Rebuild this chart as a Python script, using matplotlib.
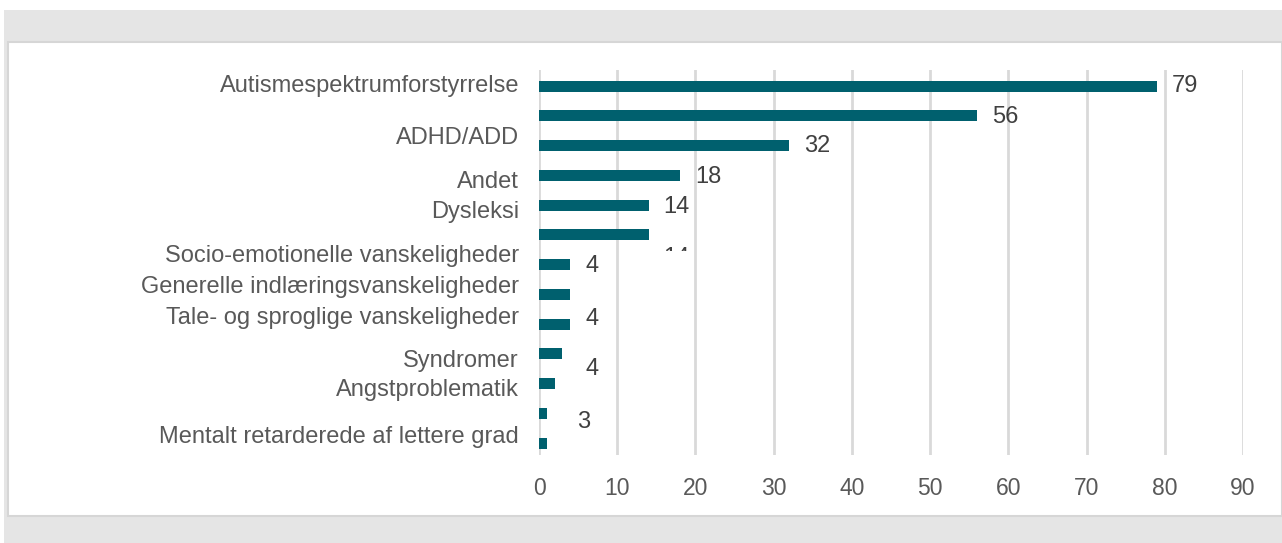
import matplotlib
matplotlib.use("Agg")
import matplotlib.pyplot as plt
from matplotlib.patches import Rectangle
import matplotlib.transforms as mtrans

plt.rcParams['font.family'] = ['Liberation Sans', 'DejaVu Sans']

# Data (bars, top to bottom)
values = [79, 56, 32, 18, 14, 14, 4, 4, 4, 3, 2, 1, 1]
categories = ["Autismespektrumforstyrrelse", "ADHD/ADD", "Andet", "Dysleksi",
              "Socio-emotionelle vanskeligheder", "Generelle indlæringsvanskeligheder",
              "Tale- og sproglige vanskeligheder", "Syndromer", "Angstproblematik",
              "Mentalt retarderede af lettere grad"]
value_labels = ["79", "56", "32", "18", "14", "14", "4", "4", "4", "3"]
value_label_x = [79, 56, 32, 18, 14, 14, 4, 4, 4, 3]
xticks = [0, 10, 20, 30, 40, 50, 60, 70, 80, 90]

# Layout (positions in bar-index units, as rendered in the reference)
cat_label_pos = [0, 1.75, 3.23, 4.24, 5.71, 6.76, 7.8, 9.24, 10.22, 11.8]
val_label_pos = [0, 1.03, 2.03, 3.05, 4.05, 5.78, 6.05, 7.82, 9.52, 11.3]

W, H = 1282, 543
fig = plt.figure(figsize=(W / 100, H / 100), dpi=100)
fig.patch.set_facecolor('white')

def px(x, y):
    return x / W, 1 - y / H

# background panels
fig.patches.append(Rectangle(px(4, 543), (W - 4) / W, (543 - 10) / H,
                             transform=fig.transFigure, facecolor='#e5e5e5',
                             edgecolor='none', zorder=-3))
fig.patches.append(Rectangle(px(8, 516), (W - 8) / W, (516 - 42) / H,
                             transform=fig.transFigure, facecolor='white',
                             edgecolor='#d6d6d6', linewidth=1.5, zorder=-2))

ax_left, ax_right, ax_top, ax_bot = 539, 1243, 70, 455
ax = fig.add_axes([ax_left / W, 1 - ax_bot / H, (ax_right - ax_left) / W, (ax_bot - ax_top) / H])
ax.set_facecolor('none')

ypos = list(range(len(values)))
ax.barh(ypos, values, height=0.37, color='#00606e', zorder=3)

ax.set_xlim(0, 90)
ax.set_ylim(12.4, -0.54)
ax.set_xticks(xticks)
ax.set_xticklabels([str(t) for t in xticks], fontsize=16.5, color='#595959')
ax.tick_params(axis='x', length=0, pad=16)
ax.set_yticks([])
ax.grid(axis='x', color='#d9d9d9', linewidth=2, zorder=0)
for s in ax.spines.values():
    s.set_visible(False)

# category labels
offset = mtrans.ScaledTranslation(-20 / 100, 0, fig.dpi_scale_trans)
for lab, p in zip(categories, cat_label_pos):
    ax.text(0, p, lab, transform=ax.transData + offset, ha='right', va='center',
            fontsize=17, color='#595959', clip_on=False)

# value labels
voff = mtrans.ScaledTranslation(15 / 100, 0, fig.dpi_scale_trans)
clip = Rectangle(px(0, 251), 1, 251 / H, transform=fig.transFigure,
                 facecolor='none', edgecolor='none')
for i, (lab, xv, p) in enumerate(zip(value_labels, value_label_x, val_label_pos)):
    t = ax.text(xv, p, lab, transform=ax.transData + voff, ha='left', va='center',
                fontsize=17, color='#404040', clip_on=False)
    if i == 5:
        t.set_clip_on(True)
        t.set_clip_box(None)
        t.set_clip_path(clip)

fig.savefig('out.png', dpi=100, facecolor=fig.get_facecolor())
